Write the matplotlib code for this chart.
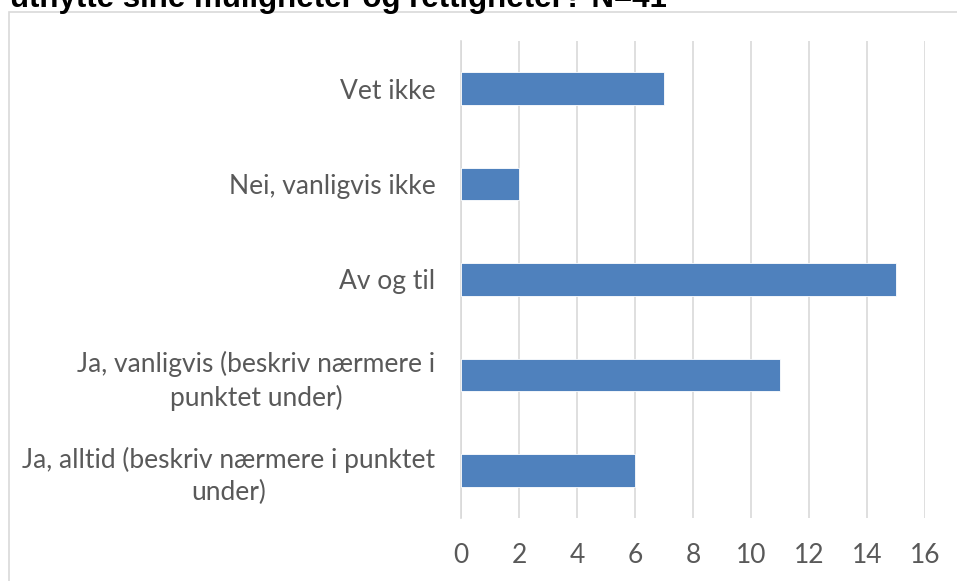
import numpy as np
import matplotlib
matplotlib.use('Agg')
import matplotlib.pyplot as plt
from matplotlib.patches import Rectangle

# data
categories = ['Ja, alltid (beskriv nærmere i punktet\nunder)',
              'Ja, vanligvis (beskriv nærmere i\npunktet under)',
              'Av og til',
              'Nei, vanligvis ikke',
              'Vet ikke']
values = [6, 11, 15, 2, 7]
xticks = [0, 2, 4, 6, 8, 10, 12, 14, 16]
title = 'utnytte sine muligheter og rettigheter? N=41'

W, H = 957, 581
fig = plt.figure(figsize=(W / 100, H / 100), dpi=100)

# chart border (excel chart area), runs off the right and bottom edges
fig.patches.append(Rectangle((8.5 / W, -0.1), 1.2, 1.1 - 11.5 / H, transform=fig.transFigure,
                             fill=False, edgecolor='#d9d9d9', linewidth=1.2))

ax = fig.add_axes([461 / W, 1 - 518 / H, (925 - 461) / W, (518 - 41) / H])
y = np.arange(len(categories))
ax.barh(y, values, height=0.34, color='#4f81bd', edgecolor='#ffffff', linewidth=0.6, zorder=3)
ax.set_ylim(-0.5, len(categories) - 0.5)
ax.set_xlim(0, 16)
ax.set_xticks(xticks)
ax.set_yticks(y)
ax.set_yticklabels(categories, multialignment='center', linespacing=1.35)
ax.xaxis.grid(True, color='#d9d9d9', linewidth=1.2, zorder=0)
for s in ['top', 'right', 'bottom']:
    ax.spines[s].set_visible(False)
ax.spines['left'].set_color('#d9d9d9')
ax.spines['left'].set_linewidth(1.2)
ax.tick_params(axis='both', length=0, labelsize=19, labelcolor='#595959')
ax.tick_params(axis='x', pad=18)
ax.tick_params(axis='y', pad=18.5)
for lab in ax.get_xticklabels() + ax.get_yticklabels():
    lab.set_family(['Lato', 'DejaVu Sans'])

fig.text(10 / W, 1 - 7 / H, title, fontsize=22.5, fontweight='bold', family='Liberation Sans',
         ha='left', va='baseline', color='#000000')

fig.savefig('out.png', dpi=100)
